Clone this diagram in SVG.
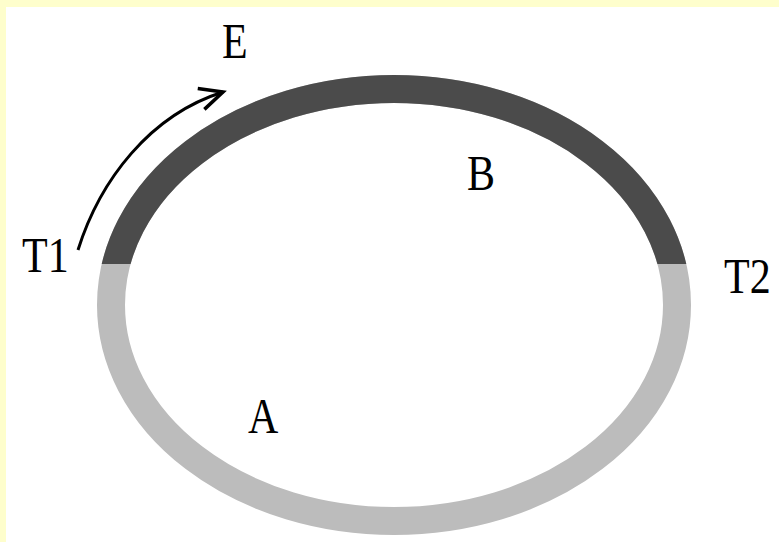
<svg xmlns="http://www.w3.org/2000/svg" width="779" height="542" viewBox="0 0 779 542">
<style>
.lbl{font-family:"Liberation Serif","Times New Roman",serif;font-size:42px;fill:#000}
.ring{fill:none;stroke-width:28}
</style>
<defs>
<clipPath id="topHalf"><rect x="0" y="0" width="779" height="264"/></clipPath>
<marker id="chev" viewBox="-30 -15 35 30" refX="0" refY="0" markerWidth="35" markerHeight="30" markerUnits="userSpaceOnUse" orient="auto" overflow="visible">
<path d="M-23,-11 L0,0 L-23,11" fill="none" stroke="#000" stroke-width="3.5" stroke-linejoin="miter"/>
</marker>
</defs>
<rect x="0" y="0" width="779" height="542" fill="#ffffff"/>
<rect x="0" y="0" width="779" height="7" fill="#fefecc"/>
<rect x="0" y="0" width="6" height="542" fill="#fefecc"/>
<g id="ring-A">
<ellipse class="ring" cx="394" cy="305" rx="283" ry="216" stroke="#bcbcbc"/>
</g>
<g id="ring-B">
<ellipse class="ring" cx="394" cy="305" rx="283" ry="216" stroke="#4b4b4b" clip-path="url(#topHalf)"/>
</g>
<g id="connectors">
<path d="M78,250 C100,180 150,115 223,92" fill="none" stroke="#000" stroke-width="3" marker-end="url(#chev)"/>
</g>
<g id="label-E"><text class="lbl" transform="translate(222,58) scale(1,1.22)">E</text></g>
<g id="label-B"><text class="lbl" transform="translate(467,190) scale(1,1.22)">B</text></g>
<g id="label-T1"><text class="lbl" transform="translate(22,272) scale(1,1.22)">T1</text></g>
<g id="label-T2"><text class="lbl" transform="translate(724,293) scale(1,1.22)">T2</text></g>
<g id="label-A"><text class="lbl" transform="translate(248,433) scale(1,1.22)">A</text></g>
</svg>
